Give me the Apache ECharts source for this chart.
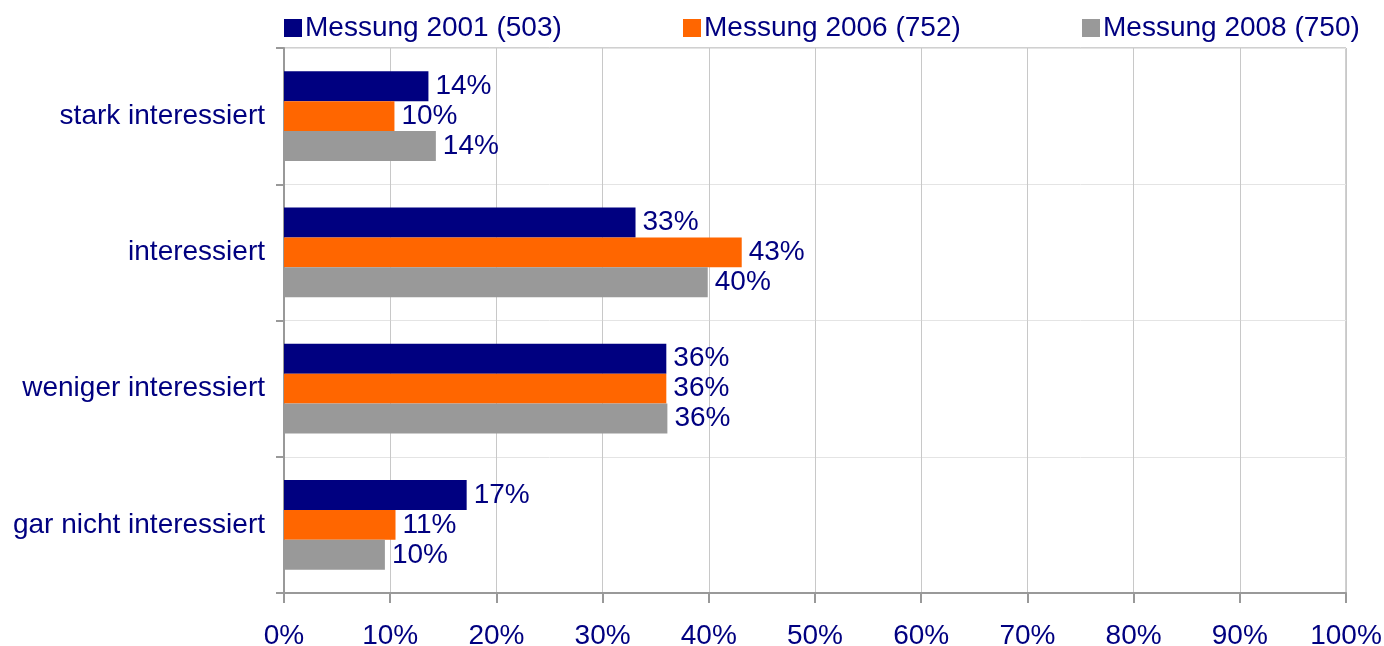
<!DOCTYPE html>
<html>
<head>
<meta charset="utf-8">
<script src="https://cdn.jsdelivr.net/npm/echarts@6/dist/echarts.min.js"></script>
<style>
  html, body { margin: 0; padding: 0; background: #fff; }
  #chart { width: 1384px; height: 646px; }
</style>
</head>
<body>
<div id="chart"></div>
<script>
"use strict";

//
// Data
//
const categories = ["stark interessiert", "interessiert", "weniger interessiert", "gar nicht interessiert"];
const series_names = ["Messung 2001 (503)", "Messung 2006 (752)", "Messung 2008 (750)"];
const values_2001 = [13.6, 33.1, 36.0, 17.2];
const values_2006 = [10.4, 43.1, 36.0, 10.5];
const values_2008 = [14.3, 39.9, 36.1, 9.5];
const series_colors = ["#000080", "#ff6600", "#999999"];

const text_color = "#000080";
const font = "Liberation Sans, Arial, sans-serif";
const font_size = 28;

const chart = echarts.init(document.getElementById("chart"));

function make_series(name, data, color) {
  return {
    type: "bar",
    name: name,
    data: data,
    barGap: "0%",
    barCategoryGap: "34%",
    itemStyle: { color: color },
    label: {
      show: true,
      position: "right",
      distance: 7,
      color: text_color,
      fontSize: font_size,
      fontFamily: font,
      padding: [3, 0, 0, 0],
      formatter: (p) => Math.round(p.value) + "%",
    },
  };
}

// one legend per item to place them like the original
const legend_left = [284, 683, 1082];
const legends = series_names.map((name, i) => ({
  data: [name],
  left: legend_left[i],
  top: 14,
  padding: 0,
  itemWidth: 18,
  itemHeight: 18,
  itemGap: 0,
  icon: "rect",
  textStyle: { color: text_color, fontSize: font_size, fontFamily: font, padding: [0, 0, 0, -2] },
}));

chart.setOption({
  animation: false,
  legend: legends,
  grid: {
    left: 284,
    right: 38,
    top: 48,
    bottom: 53,
    outerBoundsMode: "none",
    show: true,
    borderColor: "#a0a0a0",
    borderWidth: 1,
  },
  xAxis: {
    type: "value",
    min: 0,
    max: 100,
    interval: 10,
    axisLine: { show: true, lineStyle: { color: "#999", width: 2 } },
    axisTick: { show: true, length: 10, lineStyle: { color: "#999", width: 2 } },
    splitLine: { show: true, lineStyle: { color: "#c8c8c8" } },
    axisLabel: {
      color: text_color,
      fontSize: font_size,
      fontFamily: font,
      margin: 29,
      formatter: "{value}%",
    },
  },
  yAxis: {
    type: "category",
    inverse: true,
    data: categories,
    axisLine: { show: true, lineStyle: { color: "#999", width: 2 } },
    axisTick: { show: true, length: 8, lineStyle: { color: "#999", width: 2 } },
    splitLine: { show: true, lineStyle: { color: "#e4e4e4" } },
    axisLabel: {
      color: text_color,
      fontSize: font_size,
      fontFamily: font,
      margin: 19,
      padding: [6, 0, 0, 0],
    },
  },
  series: [
    make_series(series_names[0], values_2001, series_colors[0]),
    make_series(series_names[1], values_2006, series_colors[1]),
    make_series(series_names[2], values_2008, series_colors[2]),
  ],
});
</script>
</body>
</html>
